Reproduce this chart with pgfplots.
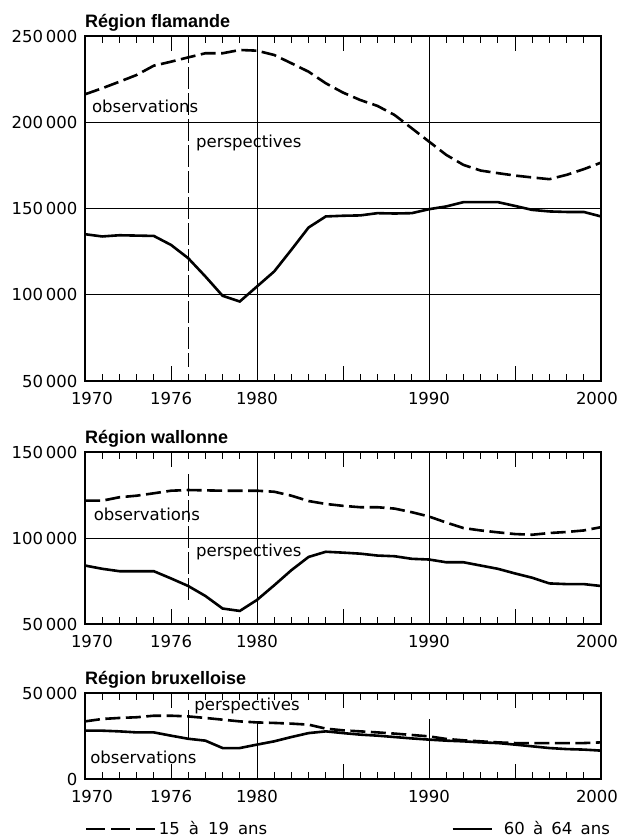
\documentclass[border=0pt]{standalone}
\usepackage{pgfplots}
\usepackage{pgfplotstable}
\pgfplotsset{compat=1.18}
\usepackage{fontspec}
\setmainfont{DejaVu Sans}
\newfontfamily\titlefont{Liberation Sans}

\pgfplotstableread{
year a b
1970 216200 135100
1971 219700 133800
1972 223500 134500
1973 227400 134300
1974 232800 134100
1975 235100 128900
1976 237600 121200
1977 240000 110600
1978 240000 99400
1979 241900 96100
1980 241500 104800
1981 239000 113500
1982 234200 126100
1983 229300 139000
1984 222600 145400
1985 217200 145800
1986 212900 146000
1987 209500 147300
1988 204200 147100
1989 196500 147300
1990 188800 149600
1991 181100 151200
1992 175300 153700
1993 172000 153700
1994 170500 153700
1995 169100 151500
1996 168000 149200
1997 167000 148300
1998 169500 148000
1999 172800 148000
2000 176600 145400
}\flam

\pgfplotstableread{
year a b
1970 121700 84000
1971 121700 82100
1972 123700 80700
1973 124600 80700
1974 126000 80700
1975 127500 76500
1976 127900 72100
1977 127700 66300
1978 127500 59000
1979 127500 57600
1980 127500 64000
1981 126900 72500
1982 124600 81300
1983 121500 89000
1984 119800 92000
1985 118700 91500
1986 117900 90900
1987 117900 89800
1988 117100 89400
1989 115000 87900
1990 112500 87500
1991 109000 85900
1992 105800 85900
1993 104400 84000
1994 103300 82100
1995 102300 79400
1996 101900 76900
1997 102900 73600
1998 103500 73200
1999 104400 73200
2000 106300 72100
}\wall

\pgfplotstableread{
year a b
1970 33500 28100
1971 34900 28100
1972 35500 27700
1973 35900 27100
1974 36800 27100
1975 36800 25200
1976 36400 23400
1977 35500 22300
1978 34500 18000
1979 33500 18000
1980 32900 20000
1981 32600 21900
1982 32200 24400
1983 31600 26700
1984 29300 27700
1985 28300 26700
1986 27700 25800
1987 27100 25200
1988 26400 24400
1989 25600 23600
1990 24800 22900
1991 23300 22300
1992 22500 21900
1993 21900 21300
1994 21300 20900
1995 20900 20000
1996 20900 19000
1997 20900 18000
1998 20900 17400
1999 20900 17100
2000 21300 16500
}\brux

\tikzset{
  vl/.style={line width=0.8pt},
  tk/.style={line width=0.9pt, black},
  vd/.style={line width=0.8pt, dash pattern=on 22pt off 4pt},
}
\pgfplotsset{
  panel/.style={
    scale only axis, width=516pt,
    xmin=1970, xmax=2000,
    axis line style={line width=1.3pt},
    tick align=inside,
    xtick={1970,1976,1980,1990,2000},
    xticklabels={\hspace*{14pt}1970, 1976\hspace*{34pt}, 1980, 1990, 2000\hspace*{8pt}},
    minor xtick={1971,1972,1973,1974,1976,1977,1978,1979,1981,1982,1983,1984,1986,1987,1988,1989,1991,1992,1993,1994,1996,1997,1998,1999},
    major tick length=7pt, minor tick length=7pt,
    tick style={line width=0.9pt, black},
    ytick style={/pgfplots/major tick length=0pt},
    xticklabel pos=lower,
    xticklabel style={yshift=-6pt},
    yticklabel style={xshift=-2pt},
    ymajorgrids, grid style={line width=0.8pt, black},
    scaled y ticks=false,
    clip=false,
  },
  dsh/.style={black, line width=2.6pt, dash pattern=on 15pt off 5.5pt, sharp plot},
  sld/.style={black, line width=2.6pt, sharp plot},
}

% one year: bottom tick #2->#3, top tick #4->#5 (data units)
\newcommand\ty[5]{(axis cs:#1,#2)--(axis cs:#1,#3) (axis cs:#1,#4)--(axis cs:#1,#5)}
% short ticks: #1 ymin, #2 ymin+short, #3 ymax, #4 ymax-short
\newcommand\tks[4]{\draw[tk]
  \ty{1971}{#1}{#2}{#3}{#4} \ty{1972}{#1}{#2}{#3}{#4} \ty{1973}{#1}{#2}{#3}{#4} \ty{1974}{#1}{#2}{#3}{#4}
  \ty{1976}{#1}{#2}{#3}{#4} \ty{1977}{#1}{#2}{#3}{#4} \ty{1978}{#1}{#2}{#3}{#4} \ty{1979}{#1}{#2}{#3}{#4}
  \ty{1981}{#1}{#2}{#3}{#4} \ty{1982}{#1}{#2}{#3}{#4} \ty{1983}{#1}{#2}{#3}{#4} \ty{1984}{#1}{#2}{#3}{#4}
  \ty{1986}{#1}{#2}{#3}{#4} \ty{1987}{#1}{#2}{#3}{#4} \ty{1988}{#1}{#2}{#3}{#4} \ty{1989}{#1}{#2}{#3}{#4}
  \ty{1991}{#1}{#2}{#3}{#4} \ty{1992}{#1}{#2}{#3}{#4} \ty{1993}{#1}{#2}{#3}{#4} \ty{1994}{#1}{#2}{#3}{#4}
  \ty{1996}{#1}{#2}{#3}{#4} \ty{1997}{#1}{#2}{#3}{#4} \ty{1998}{#1}{#2}{#3}{#4} \ty{1999}{#1}{#2}{#3}{#4};}
% long ticks at 1975, 1985, 1995
\newcommand\tkl[4]{\draw[tk]
  \ty{1975}{#1}{#2}{#3}{#4} \ty{1985}{#1}{#2}{#3}{#4} \ty{1995}{#1}{#2}{#3}{#4};}

\begin{document}
\fontsize{16.5}{19}\selectfont
\begin{tikzpicture}
\useasboundingbox (0pt,0pt) rectangle (619pt,-839pt);

% ---- Panel 1
\begin{axis}[panel, at={(85pt,-381pt)}, anchor=south west, height=345pt,
  ymin=50000, ymax=250000, ytick={50000,100000,150000,200000,250000},
  yticklabels={50\,000,100\,000,150\,000,200\,000,250\,000}]
\addplot[dsh] table[x=year,y=a]{\flam};
\addplot[sld] table[x=year,y=b]{\flam};
\tks{50000}{54070}{250000}{245930}
\tkl{50000}{58720}{250000}{241280}
\draw[vl] (axis cs:1980,50000) -- (axis cs:1980,250000);
\draw[vl] (axis cs:1990,50000) -- (axis cs:1990,250000);
\draw[vd] (axis cs:1976,247000) -- (axis cs:1976,58000);
\node[anchor=west, inner sep=0pt] at (axis cs:1970.4,209500) {observations};
\node[anchor=west, inner sep=0pt] at (axis cs:1976.45,188000) {perspectives};
\node[anchor=base west, inner sep=0pt, font=\titlefont\bfseries\fontsize{18}{20}\selectfont] at ([yshift=9pt]rel axis cs:0,1) {Région flamande};
\end{axis}

% ---- Panel 2
\begin{axis}[panel, at={(85pt,-624pt)}, anchor=south west, height=172pt,
  ymin=50000, ymax=150000, ytick={50000,100000,150000},
  yticklabels={50\,000,100\,000,150\,000}]
\addplot[dsh] table[x=year,y=a]{\wall};
\addplot[sld] table[x=year,y=b]{\wall};
\tks{50000}{54070}{150000}{145930}
\tkl{50000}{58720}{150000}{141280}
\draw[vl] (axis cs:1980,50000) -- (axis cs:1980,150000);
\draw[vl] (axis cs:1990,50000) -- (axis cs:1990,150000);
\draw[vd] (axis cs:1976,137000) -- (axis cs:1976,62000);
\node[anchor=west, inner sep=0pt] at (axis cs:1970.5,113500) {observations};
\node[anchor=west, inner sep=0pt] at (axis cs:1976.45,92000) {perspectives};
\node[anchor=base west, inner sep=0pt, font=\titlefont\bfseries\fontsize{18}{20}\selectfont] at ([yshift=9pt]rel axis cs:0,1) {Région wallonne};
\end{axis}

% ---- Panel 3
\begin{axis}[panel, at={(85pt,-779pt)}, anchor=south west, height=86pt,
  ymin=0, ymax=50000, ytick={0,50000},
  yticklabels={0,50\,000},
  legend columns=2,
  legend style={draw=none, fill=none, at={(rel axis cs:0,0)}, anchor=north west,
    yshift=-40pt, inner sep=0pt, cells={anchor=west},
    /tikz/every even column/.append style={column sep=182pt}},
  ]
\addplot[dsh, legend image code/.code={\draw[black, line width=2.6pt, dash pattern=on 19pt off 6pt] (0pt,0pt) -- (69pt,0pt);}] table[x=year,y=a]{\brux};
\addlegendentry{15\hspace{0.55em}à\hspace{0.55em}19\hspace{0.55em}ans}
\addplot[sld, legend image code/.code={\draw[black, line width=2.6pt] (0pt,0pt) -- (39pt,0pt);}] table[x=year,y=b]{\brux};
\addlegendentry{\hspace*{9pt}60\hspace{0.5em}à\hspace{0.5em}64\hspace{0.5em}ans}
\tks{0}{4070}{50000}{45930}
\tkl{0}{8720}{50000}{41280}
\draw[vl] (axis cs:1980,0) -- (axis cs:1980,33500);
\draw[vl] (axis cs:1990,0) -- (axis cs:1990,35000);
\draw[vl] (axis cs:1976,40000) -- (axis cs:1976,22500);
\node[anchor=west, inner sep=0pt] at (axis cs:1970.3,12800) {observations};
\node[anchor=west, inner sep=0pt] at (axis cs:1976.35,42200) {perspectives};
\node[anchor=base west, inner sep=0pt, font=\titlefont\bfseries\fontsize{18}{20}\selectfont] at ([yshift=9pt]rel axis cs:0,1) {Région bruxelloise};
\end{axis}
\end{tikzpicture}
\end{document}
